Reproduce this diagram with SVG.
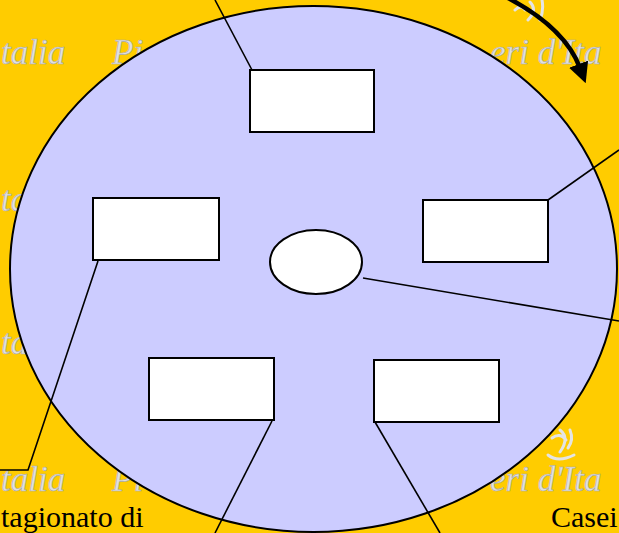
<svg xmlns="http://www.w3.org/2000/svg" width="619" height="533" viewBox="0 0 619 533">
<style>
.wm{font-family:"Liberation Serif",serif;font-style:italic;font-size:35px;fill:#E0E0E0;stroke:#A8A8A8;stroke-width:0.6}
.box{fill:#FFFFFF;stroke:#000000;stroke-width:2}
.conn{fill:none;stroke:#000000;stroke-width:1.6}
.lbl{font-family:"Liberation Serif",serif;font-size:30px;fill:#000000}
.logo{fill:none;stroke:#E4E4E4;stroke-width:3;stroke-linecap:round}
</style>
<defs>
<marker id="ah" viewBox="0 0 10 10" refX="2" refY="5" markerWidth="4.5" markerHeight="4.5" orient="auto" markerUnits="strokeWidth">
<path d="M0,0 L10,5 L0,10 Z" fill="#000000"/>
</marker>
</defs>
<rect x="0" y="0" width="619" height="533" fill="#FFCC00"/>
<g id="watermark">
<text class="wm" x="1" y="64">talia</text>
<text class="wm" x="112" y="64">Pi</text>
<text class="wm" x="490" y="64">eri d'Ita</text>
<text class="wm" x="1" y="211">ta</text>
<text class="wm" x="1" y="354">ta</text>
<text class="wm" x="1" y="491">talia</text>
<text class="wm" x="112" y="491">Pi</text>
<text class="wm" x="490" y="491">eri d'Ita</text>
<path class="logo" d="M515,10 q6,-6 10,0 M530,2 q8,8 -2,18 M540,20 q4,-10 2,-20"/>
<path class="logo" d="M552,438 q8,-6 14,2 M560,430 q10,8 0,22 M548,455 q10,8 26,0 M568,448 q6,-8 2,-18"/>
</g>
<g id="circle">
<ellipse cx="313.5" cy="269" rx="303.5" ry="263" fill="#CCCCFF" stroke="#000000" stroke-width="2"/>
</g>
<g id="connectors">
<path class="conn" d="M215,0 L252,70"/>
<path class="conn" d="M98,261 L28,470 L0,470"/>
<path class="conn" d="M548,200 L619,150"/>
<path class="conn" d="M363,278 L619,321"/>
<path class="conn" d="M272,421 L215,533"/>
<path class="conn" d="M375,422 L440,533"/>
<path d="M508,-2 Q565,28 580,68" fill="none" stroke="#000000" stroke-width="4.5" marker-end="url(#ah)"/>
</g>
<g id="n-top"><rect class="box" x="250" y="70" width="124" height="62"/></g>
<g id="n-left"><rect class="box" x="93" y="198" width="126" height="62"/></g>
<g id="n-right"><rect class="box" x="423" y="200" width="125" height="62"/></g>
<g id="n-bottom-left"><rect class="box" x="149" y="358" width="125" height="62"/></g>
<g id="n-bottom-right"><rect class="box" x="374" y="360" width="125" height="62"/></g>
<g id="n-center"><ellipse cx="316" cy="262" rx="46" ry="32" fill="#FFFFFF" stroke="#000000" stroke-width="2"/></g>
<g id="labels">
<text class="lbl" x="1" y="527">tagionato di</text>
<text class="lbl" x="551" y="527">Casei</text>
</g>
</svg>
